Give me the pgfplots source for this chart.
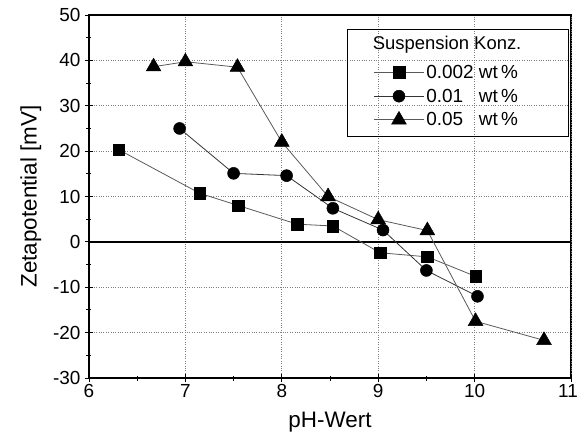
\documentclass[border=0pt]{standalone}
\usepackage{fontspec}
\setmainfont{Liberation Sans}
\usepackage{pgfplots}
\pgfplotsset{compat=1.18}
\definecolor{lg}{gray}{0.35}
\begin{document}
\begin{tikzpicture}
\useasboundingbox (-89bp,-56bp) rectangle (490bp,378bp);
\begin{axis}[
  scale only axis, width=482bp, height=363bp,
  xmin=6, xmax=11, ymin=-30, ymax=50,
  xtick={6,7,8,9,10}, ytick={-30,-20,...,50},
  extra x ticks={11},
  extra x tick style={xticklabel style={xshift=-3bp}},
  minor x tick num=1, minor y tick num=1,
  xtick pos=left, ytick pos=left,
  tick align=center,
  major tick length=8bp, minor tick length=5bp,
  every tick/.style={black, line width=1pt},
  axis line style={line width=1.3pt},
  grid=major,
  major grid style={gray, dotted, line width=0.7pt},
  /pgf/number format/assume math mode=true,
  ticklabel style={font=\fontsize{19}{21}\selectfont},
  xticklabel style={yshift=1bp},
  yticklabel style={xshift=-1bp},
  xlabel={pH-Wert}, ylabel={Zetapotential [mV]},
  label style={font=\fontsize{22.5}{25}\selectfont},
  xlabel style={yshift=1bp},
  ylabel style={yshift=5bp},
  legend style={at={(rel axis cs:0.590,0.868)}, anchor=north west,
    draw=none, fill=none, font=\fontsize{19}{22}\selectfont,
    inner xsep=0bp, inner ysep=0bp, row sep=5bp,
    /tikz/every even column/.append style={column sep=14bp}},
  legend cell align=left,
  legend image code/.code={\draw[mark repeat=2,mark phase=2,#1] plot coordinates {(0bp,0bp) (25bp,0bp) (50bp,0bp)};},
]
\addplot[black, line width=1.3pt, forget plot] coordinates {(6,0) (11,0)};
\draw[black, line width=1pt] (rel axis cs:0.537,0.961) rectangle (rel axis cs:0.994,0.664);
\node[font=\fontsize{18.5}{22}\selectfont] at (rel axis cs:0.743,0.918) {Suspension Konz.};
\addplot[lg, line width=0.8pt, mark=square*, mark size=5.8bp, mark options={black, fill=black, line width=0.5pt}] coordinates {
(6.31,20.3) (7.15,10.7) (7.55,8.0) (8.16,3.9) (8.53,3.5) (9.02,-2.4) (9.51,-3.3) (10.01,-7.6)};
\addlegendentry{0.002 wt\,\%}
\addplot[black!80, line width=0.8pt, mark=*, mark size=6bp, mark options={black, fill=black, line width=0.5pt}] coordinates {
(6.94,25.0) (7.50,15.1) (8.05,14.6) (8.53,7.4) (9.05,2.6) (9.50,-6.3) (10.03,-12.0)};
\addlegendentry{0.01\phantom{0} wt\,\%}
\addplot[lg, line width=0.8pt, mark=triangle*, mark size=8.5bp, mark options={black, fill=black, line width=0.5pt}] coordinates {
(6.67,38.6) (7.0,39.7) (7.54,38.5) (8.0,22.0) (8.48,10.0) (9.0,4.9) (9.51,2.5) (10.01,-17.5) (10.72,-21.7)};
\addlegendentry{0.05\phantom{0} wt\,\%}
\end{axis}
\end{tikzpicture}
\end{document}
